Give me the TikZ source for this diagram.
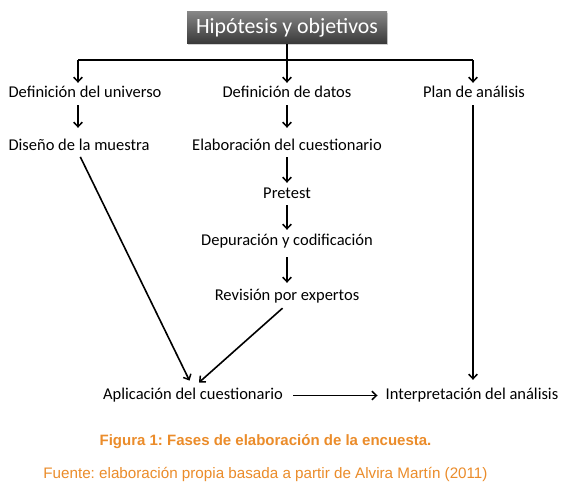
\documentclass[tikz,border=0pt]{standalone}
\usepackage{fontspec}
\setmainfont{Carlito}
\newfontfamily\capfont{Liberation Sans}
\usetikzlibrary{arrows.meta,shadows}
\definecolor{capor}{HTML}{EB8C2A}
\frenchspacing
\tikzset{
  lbl/.style={font=\fontsize{16.5}{18}\selectfont, text height=11pt, text depth=4pt, inner ysep=0pt, inner xsep=0pt, anchor=base},
  arr/.style={line width=1.6pt, -{Straight Barb[length=4.5pt,width=8.5pt,line width=1.5pt]}},
  ln/.style={line width=1.6pt},
  titlebox/.style={minimum width=200pt, minimum height=32pt, inner sep=0pt,
    top color=black!48, bottom color=black!78, draw=none,
    drop shadow={shadow xshift=1pt, shadow yshift=-1.5pt, opacity=0.35},
    text=white, font=\fontsize{21.8}{24}\selectfont},
  captext/.style={text=capor, inner sep=0pt, anchor=base}
}
\begin{document}
\begin{tikzpicture}[x=1pt,y=-1pt]
\useasboundingbox[fill=white] (0,0) rectangle (572,503);
\node[titlebox] (title) at (287,28) {Hipótesis y objetivos};
\node[lbl] (univ) at (85,97) {Definición del universo};
\node[lbl] (datos) at (287,97) {Definición de datos};
\node[lbl] (plan) at (474,97) {Plan de análisis};
\node[lbl] (diseno) at (79,150) {Diseño de la muestra};
\node[lbl] (elab) at (287,150) {Elaboración del cuestionario};
\node[lbl] (pre) at (287,198) {Pretest};
\node[lbl] (dep) at (287,245) {Depuración y codificación};
\node[lbl] (rev) at (287,300) {Revisión por expertos};
\node[lbl] (apl) at (193,399) {Aplicación del cuestionario};
\node[lbl] (interp) at (472,399) {Interpretación del análisis};
\node[captext, font=\capfont\bfseries\fontsize{15}{17}\selectfont] (fig) at (265.5,445) {Figura 1: Fases de elaboración de la encuesta.};
\node[captext, font=\capfont\fontsize{15.2}{17}\selectfont] (src) at (265.5,478) {Fuente: elaboración propia basada a partir de Alvira Martín (2011)};
\coordinate (hl) at (78,60);
\coordinate (hr) at (473,60);
\draw[ln] (hl) -- (hr);
\draw[arr, shorten >=3pt] (title.south) -- (datos.north);
\draw[arr, shorten >=3pt] (hl) -- (hl |- univ.north);
\draw[arr, shorten >=3pt] (hr) -- (hr |- plan.north);
\draw[arr, shorten <=4pt, shorten >=11pt] (hl |- univ.south) -- (hl |- diseno.north);
\draw[arr, shorten <=4pt, shorten >=11pt] (datos.south) -- (elab.north);
\draw[arr, shorten <=3pt, shorten >=4pt] (elab.south) -- (pre.north);
\draw[arr, shorten <=3pt, shorten >=4pt] (pre.south) -- (dep.north);
\draw[arr, shorten <=8pt, shorten >=6pt] (dep.south) -- (rev.north);
\draw[arr, shorten <=4pt, shorten >=8pt] (hr |- plan.south) -- (hr |- interp.north);
\draw[arr, shorten <=3pt, shorten >=8pt] (diseno.south) -- (apl.north);
\draw[arr, shorten <=6pt, shorten >=8pt] (rev.south) -- (apl.north);
\draw[arr, shorten <=10pt, shorten >=8pt] (apl.east) -- (interp.west);
\end{tikzpicture}
\end{document}
